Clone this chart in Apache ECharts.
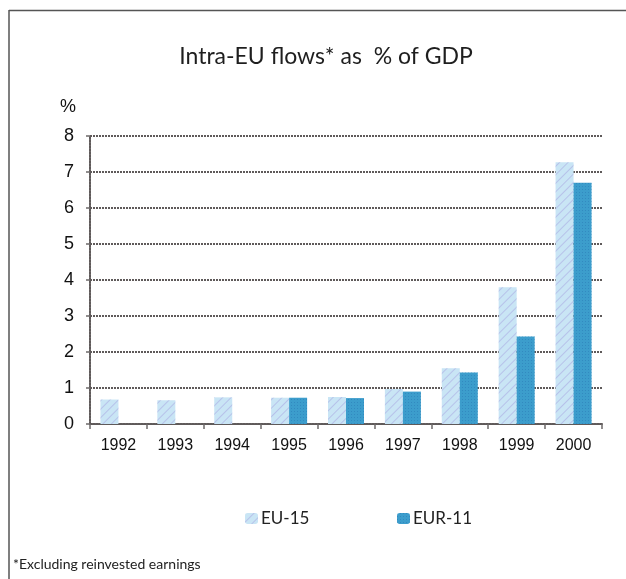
<!DOCTYPE html>
<html>
<head>
<meta charset="utf-8">
<script src="https://cdn.jsdelivr.net/npm/echarts@6/dist/echarts.min.js"></script>
<style>
html,body{margin:0;padding:0;background:#fff;}
#c{width:626px;height:579px;}
</style>
</head>
<body>
<div id="c"></div>
<script>
var categories = ['1992','1993','1994','1995','1996','1997','1998','1999','2000'];
var eu15 = [0.68, 0.66, 0.74, 0.73, 0.75, 0.97, 1.55, 3.8, 7.27];
var eur11 = [null, null, null, 0.73, 0.72, 0.9, 1.43, 2.43, 6.7];
var yTicks = [0,1,2,3,4,5,6,7,8];

var chart = echarts.init(document.getElementById('c'));
var gridStyle = {color:'#5f5a5a', width:2, type:[2,1]};
var titleFont = 'Lato, "Noto Sans", sans-serif';
var axisFont = '"Liberation Sans", Arial, sans-serif';
chart.setOption({
  animation:false,
  backgroundColor:'#fff',
  title:{
    text:'Intra-EU flows* as  % of GDP',
    left:321, top:40, textAlign:'center',
    textStyle:{fontFamily:titleFont, fontSize:23, fontWeight:'normal', color:'#1e1e1e'}
  },
  legend:[{
    data:['EU-15'], left:240, top:505, itemWidth:13, itemHeight:11, itemGap:5,
    textStyle:{fontFamily:titleFont, fontSize:17, color:'#222', padding:[0,0,0,-2]}
  },{
    data:['EUR-11'], left:392, top:505, itemWidth:13, itemHeight:11,
    textStyle:{fontFamily:titleFont, fontSize:17, color:'#222', padding:[0,0,0,-2]}
  }],
  grid:{left:90, right:24, top:136, bottom:155, containLabel:false},
  xAxis:{
    type:'category', data:categories,
    axisLine:{lineStyle:gridStyle},
    axisTick:{show:true, length:5, lineStyle:{color:'#6e6a6a', width:1.5}},
    axisLabel:{fontFamily:axisFont, fontSize:16, color:'#111', margin:14}
  },
  yAxis:{
    type:'value', min:0, max:8, interval:1,
    name:'%', nameLocation:'end', nameGap:20,
    nameTextStyle:{fontFamily:axisFont, fontSize:18, color:'#111', align:'right', padding:[0,14,0,0]},
    axisLine:{show:true, lineStyle:gridStyle},
    axisTick:{show:true, length:4, lineStyle:{color:'#6e6a6a', width:1.5}},
    splitLine:{show:true, lineStyle:gridStyle},
    axisLabel:{fontFamily:axisFont, fontSize:18, color:'#111', margin:16,
      formatter:function(v){return yTicks.indexOf(v)>=0?String(v):'';}}
  },
  series:[
    {name:'EU-15', type:'bar', data:eu15, barWidth:18, barGap:'0%',
     itemStyle:{color:'#c9e5f5', decal:{symbol:'rect', dashArrayX:[1,0], dashArrayY:[1,5], rotation:-Math.PI/4, color:'rgba(160,150,220,0.45)'}}},
    {name:'EUR-11', type:'bar', data:eur11, barWidth:18, barGap:'0%',
     itemStyle:{color:'#3c9dcc', decal:{symbol:'rect', dashArrayX:[1,2], dashArrayY:[1,2], color:'rgba(40,120,180,0.5)'}}}
  ],
  graphic:[
    {type:'line', shape:{x1:9, y1:10.5, x2:626, y2:10.5}, style:{stroke:'#555', lineWidth:1.5}},
    {type:'line', shape:{x1:9, y1:10, x2:9, y2:579}, style:{stroke:'#555', lineWidth:1.5}},
    {type:'text', left:13, top:557, style:{text:'*Excluding reinvested earnings', font:'14px '+titleFont, fill:'#222'}}
  ]
});
</script>
</body>
</html>
